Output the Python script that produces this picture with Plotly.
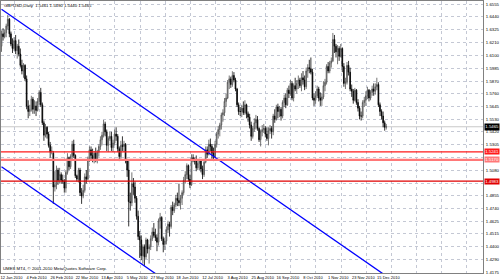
import plotly.graph_objects as go

# ---------------- data (GBPUSD daily, bar index 0 = 12 Jan 2010) ----------------
opens = [
 1.6180,1.6290,1.6265,1.6300,1.6360,1.6420,1.6290,1.6200,1.6160,1.6230,
 1.6140,1.6180,1.6110,1.6010,1.5960,1.6010,1.5890,1.5650,1.5600,1.5620,
 1.5710,1.5620,1.5650,1.5610,1.5690,1.5770,1.5660,1.5500,1.5390,1.5460,
 1.5400,1.5300,1.5240,1.5230,1.4930,1.4950,1.5080,1.4990,1.5040,1.4990,
 1.4980,1.4920,1.5060,1.5190,1.5110,1.5200,1.5310,1.5210,1.5030,1.5000,
 1.5080,1.4880,1.4850,1.4900,1.5020,1.5000,1.5180,1.5260,1.5210,1.5170,
 1.5230,1.5170,1.5240,1.5290,1.5350,1.5390,1.5490,1.5420,1.5300,1.5360,
 1.5380,1.5280,1.5320,1.5400,1.5380,1.5270,1.5200,1.5300,1.5290,1.5310,
 1.5160,1.5080,1.4800,1.4790,1.4960,1.4930,1.4830,1.4670,1.4490,1.4460,
 1.4320,1.4400,1.4310,1.4460,1.4380,1.4400,1.4470,1.4530,1.4500,1.4480,
 1.4440,1.4630,1.4660,1.4470,1.4420,1.4450,1.4550,1.4600,1.4580,1.4750,
 1.4720,1.4770,1.4830,1.4810,1.4790,1.4830,1.4880,1.4990,1.5040,1.5120,
 1.5000,1.4950,1.5190,1.5170,1.5160,1.5100,1.5140,1.5160,1.5090,1.5040,
 1.5150,1.5260,1.5220,1.5310,1.5290,1.5230,1.5200,1.5310,1.5400,1.5440,
 1.5480,1.5570,1.5590,1.5690,1.5720,1.5860,1.5890,1.5840,1.5920,1.5880,
 1.5800,1.5660,1.5600,1.5600,1.5630,1.5590,1.5660,1.5580,1.5550,1.5480,
 1.5380,1.5450,1.5500,1.5530,1.5450,1.5350,1.5420,1.5440,1.5450,1.5400,
 1.5360,1.5430,1.5450,1.5420,1.5560,1.5530,1.5640,1.5600,1.5620,1.5560,
 1.5680,1.5720,1.5660,1.5790,1.5760,1.5850,1.5720,1.5830,1.5800,1.5850,
 1.5880,1.5830,1.5900,1.5880,1.5820,1.5960,1.5990,1.5980,1.5950,1.5720,
 1.5700,1.5740,1.5800,1.5720,1.5700,1.5730,1.5830,1.5860,1.6000,1.5960,
 1.6030,1.6050,1.6240,1.6180,1.6130,1.6160,1.6090,1.6160,1.6000,1.5850,
 1.5860,1.6010,1.5950,1.5800,1.5780,1.5700,1.5790,1.5680,1.5630,1.5560,
 1.5560,1.5680,1.5700,1.5740,1.5790,1.5720,1.5770,1.5800,1.5780,1.5820,
 1.5840,1.5660,1.5600,1.5560,1.5500,1.5461]
highs = [
 1.6320,1.6340,1.6330,1.6380,1.6457,1.6430,1.6310,1.6250,1.6260,1.6280,
 1.6200,1.6240,1.6160,1.6060,1.6030,1.6020,1.5920,1.5700,1.5660,1.5740,
 1.5730,1.5700,1.5690,1.5720,1.5790,1.5810,1.5680,1.5520,1.5490,1.5470,
 1.5420,1.5330,1.5290,1.5250,1.5070,1.5120,1.5100,1.5100,1.5060,1.5040,
 1.5000,1.5080,1.5230,1.5200,1.5220,1.5340,1.5350,1.5220,1.5040,1.5100,
 1.5100,1.4920,1.4950,1.5050,1.5080,1.5200,1.5290,1.5290,1.5270,1.5250,
 1.5280,1.5260,1.5310,1.5380,1.5420,1.5525,1.5510,1.5440,1.5380,1.5420,
 1.5420,1.5350,1.5440,1.5460,1.5400,1.5290,1.5340,1.5380,1.5340,1.5320,
 1.5180,1.5160,1.4880,1.5060,1.5010,1.4980,1.4850,1.4720,1.4540,1.4500,
 1.4420,1.4420,1.4480,1.4470,1.4420,1.4500,1.4570,1.4610,1.4560,1.4510,
 1.4650,1.4700,1.4670,1.4490,1.4480,1.4580,1.4630,1.4620,1.4770,1.4800,
 1.4790,1.4860,1.4880,1.4960,1.4860,1.4900,1.5020,1.5070,1.5140,1.5130,
 1.5040,1.5220,1.5220,1.5190,1.5210,1.5160,1.5180,1.5170,1.5120,1.5170,
 1.5290,1.5290,1.5350,1.5360,1.5310,1.5280,1.5340,1.5420,1.5470,1.5500,
 1.5590,1.5620,1.5720,1.5760,1.5880,1.5920,1.5910,1.5958,1.5950,1.5900,
 1.5810,1.5680,1.5640,1.5660,1.5690,1.5700,1.5670,1.5600,1.5580,1.5510,
 1.5470,1.5540,1.5570,1.5560,1.5460,1.5440,1.5480,1.5490,1.5470,1.5460,
 1.5460,1.5480,1.5470,1.5580,1.5620,1.5660,1.5670,1.5650,1.5640,1.5700,
 1.5750,1.5760,1.5810,1.5830,1.5880,1.5870,1.5850,1.5900,1.5880,1.5920,
 1.5900,1.5940,1.5960,1.5920,1.5990,1.6020,1.6060,1.6080,1.5980,1.5760,
 1.5780,1.5830,1.5820,1.5770,1.5760,1.5870,1.5890,1.6020,1.6040,1.6050,
 1.6080,1.6298,1.6280,1.6200,1.6190,1.6180,1.6200,1.6170,1.6030,1.5900,
 1.6040,1.6050,1.5990,1.5840,1.5800,1.5810,1.5800,1.5710,1.5650,1.5600,
 1.5700,1.5730,1.5780,1.5820,1.5800,1.5790,1.5830,1.5850,1.5850,1.5900,
 1.5860,1.5680,1.5620,1.5600,1.5520,1.5490]
lows = [
 1.6130,1.6230,1.6250,1.6260,1.6330,1.6260,1.6180,1.6120,1.6140,1.6110,
 1.6070,1.6090,1.5990,1.5930,1.5900,1.5870,1.5620,1.5540,1.5560,1.5600,
 1.5580,1.5580,1.5560,1.5600,1.5660,1.5640,1.5480,1.5340,1.5370,1.5360,
 1.5280,1.5190,1.5220,1.4780,1.4890,1.4910,1.4950,1.4960,1.4960,1.4960,
 1.4880,1.4880,1.5040,1.5080,1.5090,1.5170,1.5190,1.5010,1.4980,1.4970,
 1.4850,1.4780,1.4830,1.4880,1.4960,1.4990,1.5150,1.5170,1.5150,1.5140,
 1.5150,1.5140,1.5200,1.5260,1.5300,1.5370,1.5380,1.5250,1.5240,1.5340,
 1.5250,1.5240,1.5300,1.5340,1.5240,1.5160,1.5180,1.5250,1.5240,1.5140,
 1.5020,1.4580,1.4720,1.4760,1.4860,1.4790,1.4640,1.4460,1.4300,1.4280,
 1.4250,1.4230,1.4290,1.4340,1.4250,1.4370,1.4450,1.4480,1.4450,1.4360,
 1.4410,1.4560,1.4450,1.4350,1.4370,1.4420,1.4520,1.4490,1.4560,1.4680,
 1.4700,1.4750,1.4760,1.4760,1.4730,1.4770,1.4860,1.4960,1.5000,1.4980,
 1.4920,1.4940,1.5150,1.5130,1.5070,1.5080,1.5080,1.5060,1.5000,1.5020,
 1.5140,1.5190,1.5210,1.5250,1.5180,1.5160,1.5190,1.5280,1.5360,1.5380,
 1.5440,1.5510,1.5560,1.5640,1.5710,1.5800,1.5810,1.5820,1.5860,1.5780,
 1.5640,1.5570,1.5560,1.5550,1.5570,1.5570,1.5540,1.5510,1.5450,1.5340,
 1.5360,1.5420,1.5440,1.5430,1.5330,1.5290,1.5380,1.5410,1.5370,1.5340,
 1.5300,1.5400,1.5360,1.5390,1.5500,1.5520,1.5540,1.5550,1.5520,1.5540,
 1.5640,1.5630,1.5650,1.5720,1.5740,1.5700,1.5690,1.5780,1.5760,1.5800,
 1.5810,1.5780,1.5840,1.5790,1.5800,1.5900,1.5940,1.5930,1.5700,1.5650,
 1.5670,1.5720,1.5690,1.5650,1.5650,1.5710,1.5780,1.5840,1.5940,1.5940,
 1.5990,1.6040,1.6120,1.6080,1.6020,1.6050,1.6080,1.5950,1.5820,1.5800,
 1.5840,1.5920,1.5780,1.5730,1.5670,1.5690,1.5660,1.5600,1.5530,1.5520,
 1.5540,1.5640,1.5650,1.5710,1.5690,1.5700,1.5740,1.5740,1.5750,1.5790,
 1.5640,1.5560,1.5530,1.5460,1.5430,1.5440]
closes = [
 1.6290,1.6265,1.6300,1.6360,1.6420,1.6290,1.6200,1.6160,1.6230,1.6140,
 1.6180,1.6110,1.6010,1.5960,1.6010,1.5890,1.5650,1.5600,1.5620,1.5710,
 1.5620,1.5650,1.5610,1.5690,1.5770,1.5660,1.5500,1.5390,1.5460,1.5400,
 1.5300,1.5240,1.5250,1.4930,1.4950,1.5080,1.4990,1.5040,1.4990,1.4980,
 1.4920,1.5060,1.5190,1.5110,1.5200,1.5310,1.5210,1.5030,1.5000,1.5080,
 1.4880,1.4850,1.4900,1.5020,1.5000,1.5180,1.5260,1.5210,1.5170,1.5230,
 1.5170,1.5240,1.5290,1.5350,1.5390,1.5490,1.5420,1.5300,1.5360,1.5380,
 1.5280,1.5320,1.5400,1.5380,1.5270,1.5200,1.5300,1.5290,1.5310,1.5160,
 1.5080,1.4800,1.4790,1.4960,1.4930,1.4830,1.4670,1.4490,1.4460,1.4320,
 1.4400,1.4310,1.4460,1.4380,1.4400,1.4470,1.4530,1.4500,1.4480,1.4440,
 1.4630,1.4660,1.4470,1.4420,1.4450,1.4550,1.4600,1.4580,1.4750,1.4720,
 1.4770,1.4830,1.4810,1.4790,1.4830,1.4880,1.4990,1.5040,1.5120,1.5000,
 1.4950,1.5190,1.5170,1.5160,1.5100,1.5140,1.5160,1.5090,1.5040,1.5150,
 1.5260,1.5220,1.5310,1.5290,1.5230,1.5200,1.5310,1.5400,1.5440,1.5480,
 1.5570,1.5590,1.5690,1.5720,1.5860,1.5890,1.5840,1.5920,1.5880,1.5800,
 1.5660,1.5600,1.5600,1.5630,1.5590,1.5660,1.5580,1.5550,1.5480,1.5380,
 1.5450,1.5500,1.5530,1.5450,1.5350,1.5420,1.5440,1.5450,1.5400,1.5360,
 1.5430,1.5450,1.5420,1.5560,1.5530,1.5640,1.5600,1.5620,1.5560,1.5680,
 1.5720,1.5660,1.5790,1.5760,1.5850,1.5720,1.5830,1.5800,1.5850,1.5880,
 1.5830,1.5900,1.5880,1.5820,1.5960,1.5990,1.5980,1.5950,1.5720,1.5700,
 1.5740,1.5800,1.5720,1.5700,1.5730,1.5830,1.5860,1.6000,1.5960,1.6030,
 1.6050,1.6240,1.6180,1.6130,1.6160,1.6090,1.6160,1.6000,1.5850,1.5860,
 1.6010,1.5950,1.5800,1.5780,1.5700,1.5790,1.5680,1.5630,1.5560,1.5560,
 1.5680,1.5700,1.5740,1.5790,1.5720,1.5770,1.5800,1.5780,1.5820,1.5840,
 1.5660,1.5600,1.5560,1.5500,1.5460,1.5465]
assert len(opens) == len(highs) == len(lows) == len(closes)
bars = list(range(len(closes)))

date_ticks = [0, 16, 32, 48, 64, 80, 96, 112, 128, 144, 160, 176, 192, 208, 224, 240]
date_labels = ["12 Jan 2010", "4 Feb 2010", "26 Feb 2010", "22 Mar 2010", "13 Apr 2010",
               "5 May 2010", "27 May 2010", "18 Jun 2010", "12 Jul 2010", "3 Aug 2010",
               "25 Aug 2010", "16 Sep 2010", "8 Oct 2010", "1 Nov 2010", "23 Nov 2010",
               "15 Dec 2010"]
price_ticks = [1.6555, 1.6440, 1.6325, 1.6210, 1.6100, 1.5985, 1.5870, 1.5760, 1.5645,
               1.5530, 1.5420, 1.5305, 1.5195, 1.5080, 1.4965, 1.4855, 1.4740, 1.4625,
               1.4515, 1.4400, 1.4290, 1.4175]
# labels that sit under a price tag in the terminal are not drawn
hidden_price_ticks = [1.5195, 1.4965]

upper_line_x = [0, 250]
upper_line_y = [1.6509, 1.4091]
lower_line_x = [0, 100]
lower_line_y = [1.5109, 1.4142]

level_prices = [1.5241, 1.5170, 1.4983]
level_colors = ["#ff1a1a", "#ff7878", "#e00000"]
level_widths = [1.3, 2.2, 1.2]

title_text = "GBPUSD,Daily  1.5461 1.5490 1.5440 1.5465"
footer_text = "UMES MT4, \u00a9 2001-2010 MetaQuotes Software Corp."

FONT = "Liberation Sans, Arial, sans-serif"
FS = 4.3

fig = go.Figure()

fig.add_trace(go.Candlestick(
    x=bars, open=opens, high=highs, low=lows, close=closes,
    increasing=dict(line=dict(color="#505050", width=0.8), fillcolor="#b4b4b4"),
    decreasing=dict(line=dict(color="#000000", width=0.8), fillcolor="#000000"),
    whiskerwidth=0, showlegend=False, hoverinfo="skip"))

fig.add_trace(go.Scatter(x=upper_line_x, y=upper_line_y, mode="lines",
                         line=dict(color="#0000ff", width=1.3), showlegend=False, hoverinfo="skip"))
fig.add_trace(go.Scatter(x=lower_line_x, y=lower_line_y, mode="lines",
                         line=dict(color="#0000ff", width=1.3), showlegend=False, hoverinfo="skip"))

# current price (bid) line
fig.add_hline(y=closes[-1], line=dict(color="#c8c8c8", width=1), layer="below")
for p, c, w in zip(level_prices, level_colors, level_widths):
    fig.add_hline(y=p, line=dict(color=c, width=w))
    fig.add_annotation(x=1, xref="paper", y=p, yref="y", text=f"{p:.4f}",
                       showarrow=False, xanchor="left", yanchor="middle", xshift=1,
                       bgcolor=c, borderpad=0.2, font=dict(family=FONT, size=FS, color="white"))

fig.add_annotation(x=1, xref="paper", y=closes[-1], yref="y", text=f"{closes[-1]:.4f}",
                   showarrow=False, xanchor="left", yanchor="middle", xshift=1,
                   bgcolor="#000000", borderpad=0.3, font=dict(family=FONT, size=FS, color="white"))

fig.add_annotation(x=0, xref="paper", y=1, yref="paper", text=title_text, showarrow=False,
                   xanchor="left", yanchor="top", xshift=2, yshift=-1, borderpad=0,
                   font=dict(family=FONT, size=FS, color="#000000"))
fig.add_annotation(x=0, xref="paper", y=0, yref="paper", text=footer_text, showarrow=False,
                   xanchor="left", yanchor="bottom", xshift=1, yshift=1, borderpad=0,
                   font=dict(family=FONT, size=FS, color="#000000"))

fig.update_layout(
    width=500, height=280,
    margin=dict(l=0, r=15, t=1, b=7),
    paper_bgcolor="#ffffff", plot_bgcolor="#ffffff",
    font=dict(family=FONT, size=FS, color="#000000"),
    xaxis=dict(range=[-0.32, 306.6], tickmode="array", tickvals=date_ticks, ticktext=date_labels,
               tickangle=0, tickfont=dict(size=4.0), showgrid=False, zeroline=False,
               showline=True, linecolor="#808080", ticklabeloverflow="allow",
               linewidth=1, mirror=True, ticks="", ticklabelshift=10, ticklabelstandoff=0,
               rangeslider=dict(visible=False), fixedrange=True,
               minor=dict(tickmode="linear", tick0=8.2, dtick=16, showgrid=True,
                          gridcolor="#c4c8d4", griddash="dot", gridwidth=1, ticks="")),
    yaxis=dict(range=[1.41663, 1.65816], side="right", tickmode="array", tickvals=price_ticks,
               ticktext=["" if v in hidden_price_ticks else f"{v:.4f}" for v in price_ticks],
               showgrid=True, gridcolor="#c4c8d4", ticklabeloverflow="allow",
               griddash="dot", gridwidth=1, zeroline=False, showline=True, linecolor="#808080",
               linewidth=1, mirror=True, ticks="", ticklabelstandoff=1, fixedrange=True),
)

fig.write_html("out.html")
